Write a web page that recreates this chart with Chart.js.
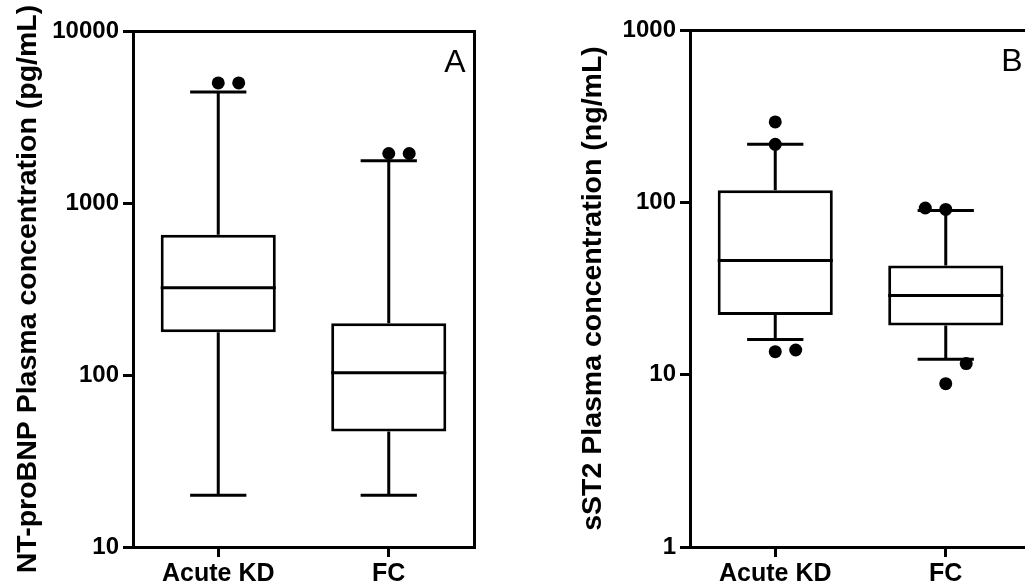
<!DOCTYPE html>
<html>
<head>
<meta charset="utf-8">
<script src="https://cdn.jsdelivr.net/npm/chart.js@4.4.1/dist/chart.umd.min.js"></script>
<style>
  html, body { margin: 0; padding: 0; background: #fff; overflow: hidden; width: 1025px; height: 588px; }
  canvas { position: absolute; top: 0; }
  #chart-a { left: 0; }
  #chart-b { left: 557px; }
</style>
</head>
<body>
<canvas id="chart-a" width="505" height="588"></canvas>
<canvas id="chart-b" width="505" height="588"></canvas>
<script>
var groups = ['Acute KD', 'FC'];

// NT-proBNP, pg/mL
var ntLow = [20, 20];
var ntQ1 = [177, 47];
var ntMedian = [322, 103];
var ntQ3 = [653, 200];
var ntHigh = [4420, 1760];
var ntOutliers = [[4990, 4990], [1940, 1940]];
var ntTicks = [10, 100, 1000, 10000];

// sST2, ng/mL
var stLow = [16.0, 12.3];
var stQ1 = [22.2, 19.3];
var stMedian = [46, 28.8];
var stQ3 = [117.5, 43.0];
var stHigh = [217, 89.8];
var stOutliers = [[293, 217, 13.6, 13.9], [92.7, 91, 11.6, 8.87]];
var stTicks = [1, 10, 100, 1000];

// which side each outlier dot is nudged to so touching dots don't overlap
var ntSides = [[0, 1], [0, 1]];
var stSides = [[0, 0, 0, 1], [-1, 0, 1, 0]];

var FONT = "'Liberation Sans', Arial, Helvetica, sans-serif";
var BOX_WIDTH = 0.675;  // share of a category
var CAP_WIDTH = 0.33;
var JITTER = 0.12;
var LINE = 3;

// whiskers, caps and median as one broken line
function boxLines(low, q1, med, q3, high) {
  var pts = [];
  var gap = {x: null, y: null};
  var b = BOX_WIDTH / 2, c = CAP_WIDTH / 2;
  for (var i = 0; i < low.length; i++) {
    pts.push({x: i, y: q3[i]}, {x: i, y: high[i]}, gap);
    pts.push({x: i, y: q1[i]}, {x: i, y: low[i]}, gap);
    pts.push({x: i - c, y: high[i]}, {x: i + c, y: high[i]}, gap);
    pts.push({x: i - c, y: low[i]}, {x: i + c, y: low[i]}, gap);
    pts.push({x: i - b, y: med[i]}, {x: i + b, y: med[i]}, gap);
  }
  return pts;
}

function outlierPoints(values, sides) {
  var pts = [];
  values.forEach(function (vals, i) {
    vals.forEach(function (v, k) {
      pts.push({x: i + sides[i][k] * JITTER, y: v});
    });
  });
  return pts;
}

var panelLetter = {
  id: 'panelLetter',
  afterDraw: function (chart, args, opts) {
    var ctx = chart.ctx, area = chart.chartArea;
    ctx.save();
    ctx.font = '32px ' + FONT;
    ctx.fillStyle = '#000';
    ctx.textAlign = 'center';
    ctx.textBaseline = 'alphabetic';
    ctx.fillText(opts.text, area.right - 19, area.top + 41);
    ctx.restore();
  }
};

// plain border-only axis used to close the frame on top / right
function frameAxis(position) {
  return {
    type: 'linear',
    position: position,
    display: true,
    offset: false,
    ticks: {display: false},
    grid: {display: false, drawTicks: false, lineWidth: LINE},
    border: {width: LINE, color: '#000'},
    afterFit: function (s) {
      if (position === 'top') s.height = 0; else s.width = 0;
    }
  };
}

function makePanel(id, p) {
  return new Chart(document.getElementById(id), {
    type: 'bar',
    data: {
      labels: groups,
      datasets: [
        {
          type: 'scatter',
          xAxisID: 'xl',
          yAxisID: 'y',
          data: outlierPoints(p.outliers, p.sides),
          pointRadius: 6.5,
          pointBackgroundColor: '#000',
          pointBorderWidth: 0,
          order: 0
        },
        {
          type: 'line',
          xAxisID: 'xl',
          yAxisID: 'y',
          data: boxLines(p.low, p.q1, p.med, p.q3, p.high),
          borderColor: '#000',
          borderWidth: LINE,
          pointRadius: 0,
          spanGaps: false,
          fill: false,
          order: 1
        },
        {
          type: 'bar',
          xAxisID: 'x',
          yAxisID: 'y',
          data: p.q1.map(function (v, i) { return [v, p.q3[i]]; }),
          backgroundColor: '#fff',
          borderColor: '#000',
          borderWidth: LINE,
          borderSkipped: false,
          grouped: false,
          barPercentage: BOX_WIDTH,
          categoryPercentage: 1,
          order: 2
        }
      ]
    },
    options: {
      responsive: false,
      animation: false,
      layout: {padding: {left: 0, top: p.top, right: 31, bottom: 0}},
      plugins: {
        legend: {display: false},
        tooltip: {enabled: false},
        panelLetter: {text: p.letter}
      },
      scales: {
        x: {
          type: 'category',
          offset: true,
          grid: {offset: false, drawOnChartArea: false, tickLength: 10, lineWidth: LINE, color: '#000'},
          border: {width: LINE, color: '#000'},
          ticks: {color: '#000', padding: 2, font: {family: FONT, size: 25, weight: 'bold'}},
          afterFit: function (s) { s.height = 41; }
        },
        xl: {type: 'linear', display: false, offset: false, min: -0.5, max: 1.5},
        x2: frameAxis('top'),
        y: {
          type: 'logarithmic',
          min: p.ticks[0],
          max: p.ticks[p.ticks.length - 1],
          afterBuildTicks: function (s) {
            s.ticks = p.ticks.map(function (v) { return {value: v}; });
          },
          grid: {drawOnChartArea: false, tickLength: 10, lineWidth: LINE, color: '#000'},
          border: {width: LINE, color: '#000'},
          ticks: {
            color: '#000',
            padding: 4,
            font: {family: FONT, size: 24, weight: 'bold'},
            callback: function (v) { return String(v); }
          },
          title: {
            display: true,
            text: p.title,
            color: '#000',
            padding: {top: p.titlePad, bottom: 0},
            font: {family: FONT, size: 28.5, weight: 'bold', lineHeight: 1.2}
          },
          afterFit: function (s) { s.width = 133; }
        },
        y2: frameAxis('right')
      }
    },
    plugins: [panelLetter]
  });
}

makePanel('chart-a', {
  low: ntLow, q1: ntQ1, med: ntMedian, q3: ntQ3, high: ntHigh,
  outliers: ntOutliers, sides: ntSides, ticks: ntTicks,
  title: 'NT-proBNP Plasma concentration (pg/mL)',
  letter: 'A', top: 31, titlePad: 11
});

makePanel('chart-b', {
  low: stLow, q1: stQ1, med: stMedian, q3: stQ3, high: stHigh,
  outliers: stOutliers, sides: stSides, ticks: stTicks,
  title: 'sST2 Plasma concentration (ng/mL)',
  letter: 'B', top: 30, titlePad: 19
});
</script>
</body>
</html>
